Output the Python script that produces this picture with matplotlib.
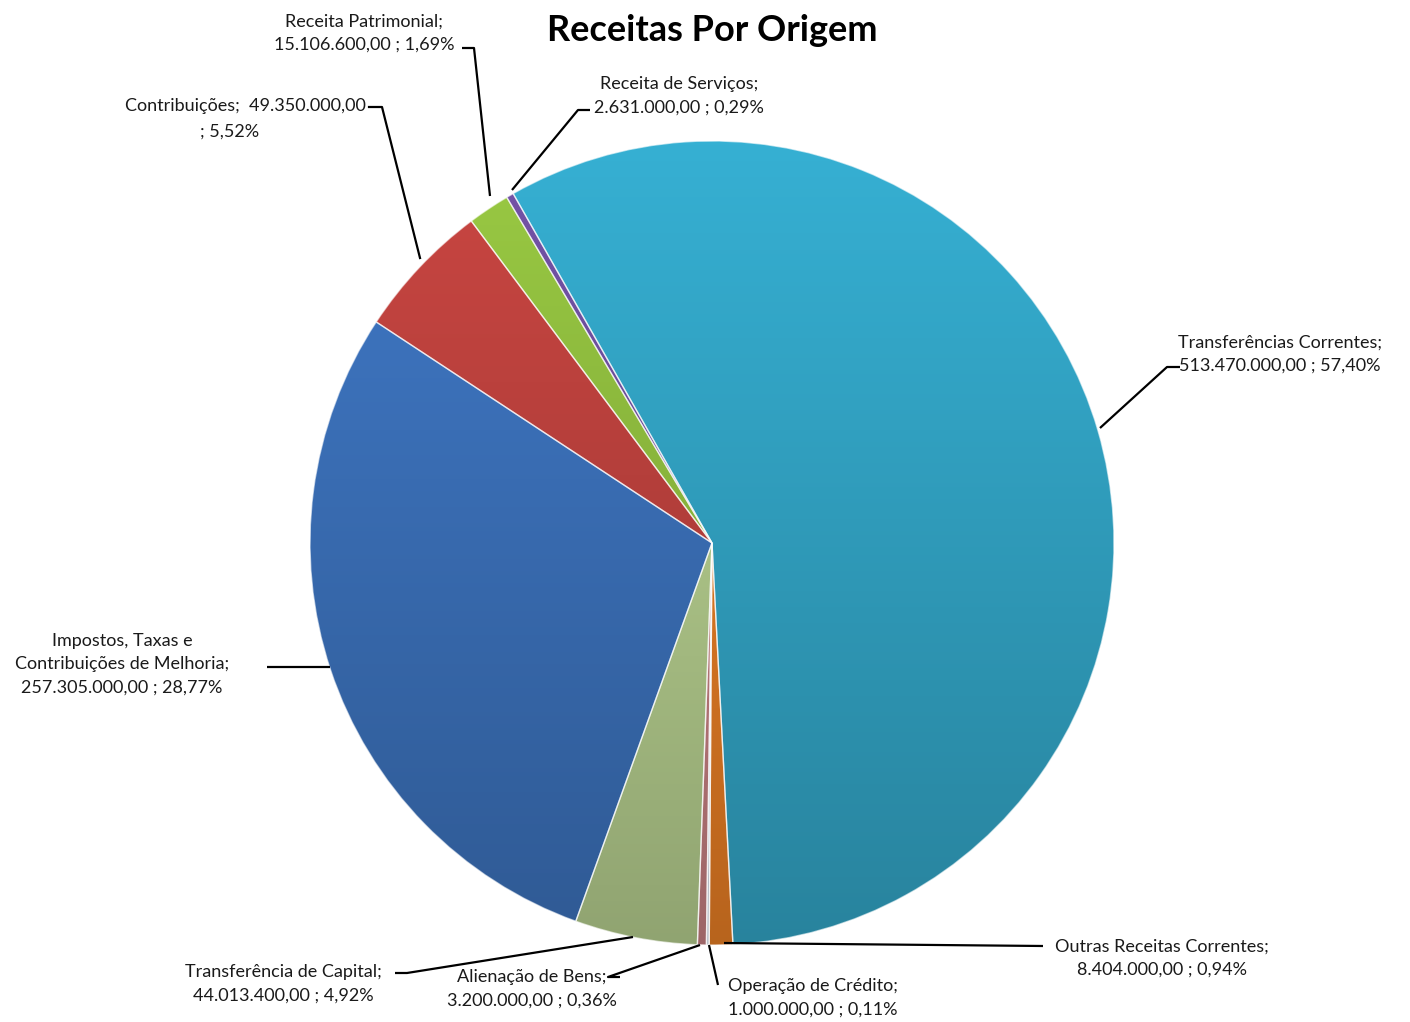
import numpy as np
import matplotlib.pyplot as plt
from matplotlib.colors import to_rgb

plt.rcParams['font.family'] = ['Lato', 'DejaVu Sans']

# dados (ordem do Excel, sentido horário)
categorias = ['Impostos, Taxas e\nContribuições de Melhoria', 'Contribuições', 'Receita Patrimonial',
              'Receita de Serviços', 'Transferências Correntes', 'Outras Receitas Correntes',
              'Operação de Crédito', 'Alienação de Bens', 'Transferência de Capital']
valores = [257305000, 49350000, 15106600, 2631000, 513470000, 8404000, 1000000, 3200000, 44013400]
cores = ['#3A6EB5', '#B8403C', '#8CB83D', '#6A4C99', '#31A0C0', '#E07A24', '#D6DEEA', '#C07C7E', '#B0C88A']


def fmt_br(v):
    return f'{v:,.2f}'.replace(',', 'X').replace('.', ',').replace('X', '.')


W, H = 1410, 1022
fig = plt.figure(figsize=(W / 100, H / 100), dpi=100)
ax = fig.add_axes([0, 0, 1, 1])

cx, cy, r = 712, H - 543, 402
wedges, _ = ax.pie(valores, colors=cores, startangle=250.2, counterclock=False,
                   center=(cx, cy), radius=r, frame=True,
                   wedgeprops=dict(edgecolor=(1, 1, 1, 0.6), linewidth=1))
ax.set_xlim(0, W)
ax.set_ylim(0, H)
ax.set_aspect('equal')
ax.axis('off')

# sombreamento vertical dentro de cada fatia
grad = np.linspace(1.1, 0.82, 200)[:, None]
for w, c in zip(wedges, cores):
    rgb = np.array(to_rgb(c))
    img = np.clip(grad[:, :, None] * rgb[None, None, :], 0, 1)
    img = np.repeat(img, 2, axis=1)
    im = ax.imshow(img, extent=(cx - r, cx + r, cy - r, cy + r), origin='upper',
                   aspect='auto', zorder=1.5)
    im.set_clip_path(w)
    w.set_zorder(2)
    w.set_facecolor('none')

total = sum(valores)
rotulos = []
for cat, v in zip(categorias, valores):
    rotulos.append(f'{cat};\n{fmt_br(v)} ; {fmt_br(100 * v / total)}%')

# posições dos rótulos (pixels da imagem) e linhas de chamada
pos = {
    0: (122, 664, [(267, 667), (330, 667)]),
    1: None,
    2: (364, 33, [(462, 48), (474, 48), (490, 196)]),
    3: (679, 96, [(590, 110), (578, 110), (512, 190)]),
    4: (1280, 354, [(1180, 367), (1167, 367), (1100, 428)]),
    5: (1162, 958, [(1043, 946), (724, 943)]),
    6: (813, 998, [(718, 985), (709, 945)]),
    7: (532, 989, [(620, 977), (608, 977), (700, 945)]),
    8: (283, 984, [(395, 973), (407, 973), (633, 937)]),
}
fs = 13
for i, p in pos.items():
    if p is None:
        continue
    x, y, linha = p
    ax.text(x, H - y, rotulos[i], ha='center', va='center', fontsize=fs,
            color='#1a1a1a', linespacing=1.55, zorder=5)
    xs = [q[0] for q in linha]
    ys = [H - q[1] for q in linha]
    ax.plot(xs, ys, color='black', lw=1.6, zorder=4, solid_capstyle='butt')

# Contribuições: rótulo em duas partes
ax.text(366, H - 106, f'{categorias[1]};  {fmt_br(valores[1])}', ha='right', va='center',
        fontsize=fs, color='#1a1a1a', zorder=5)
ax.text(230, H - 132, f'; {fmt_br(100 * valores[1] / total)}%', ha='center', va='center',
        fontsize=fs, color='#1a1a1a', zorder=5)
ax.plot([369, 382, 420], [H - 107, H - 107, H - 258], color='black', lw=1.6, zorder=4)

ax.text(712, H - 30, 'Receitas Por Origem', ha='center', va='center', fontsize=26,
        fontweight='bold', color='black')

fig.savefig('out.png', dpi=100)
